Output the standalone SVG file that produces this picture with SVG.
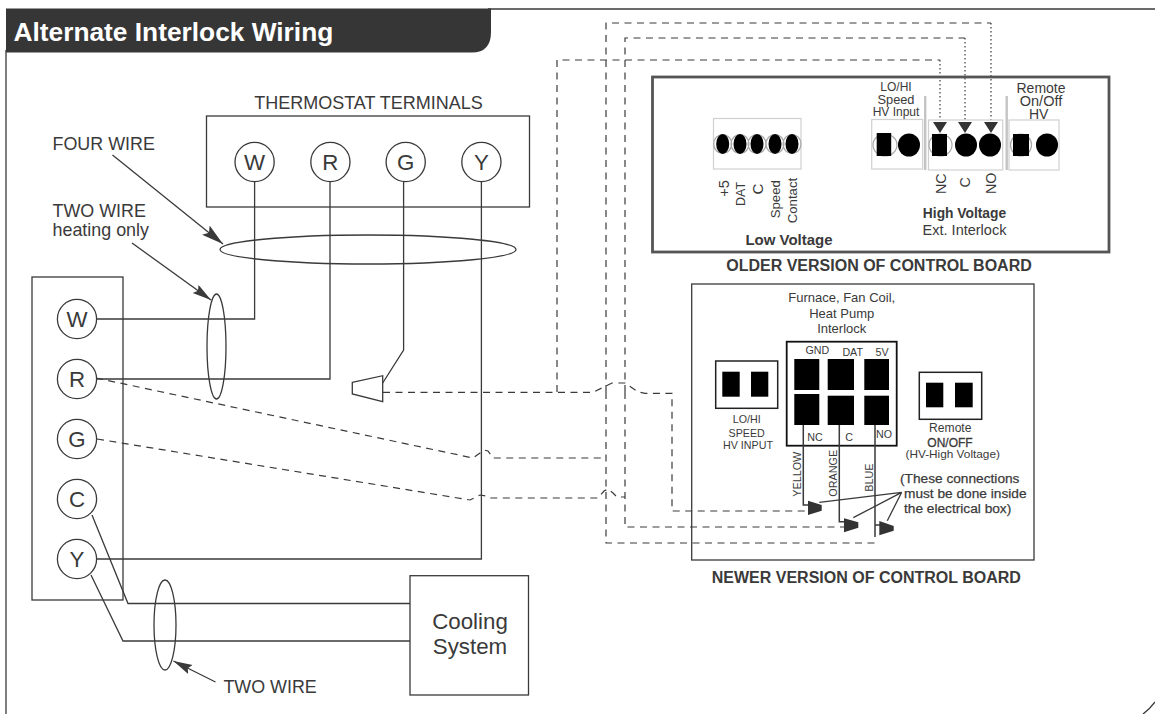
<svg xmlns="http://www.w3.org/2000/svg" width="1155" height="714" viewBox="0 0 1155 714">
<style>
text{font-family:"Liberation Sans",Arial,sans-serif;fill:#3a3a3a}
.l{fill:none;stroke:#3a3a3a;stroke-width:1.3}
.d{fill:none;stroke:#3a3a3a;stroke-width:1.2;stroke-dasharray:7 5.5}
.o{fill:none;stroke:#3a3a3a;stroke-width:1.2;stroke-dasharray:1.5 2.5}
.c{fill:#fff;stroke:#3a3a3a;stroke-width:1.3}
.b{font-weight:bold}
.k{fill:#000}
.g{fill:#fff;stroke:#d0d0d0;stroke-width:1.2}
.r{fill:none;stroke:#a8a8a8;stroke-width:1.2}
.h{fill:#333}
.m{text-anchor:middle}
.t{font-size:17.9px}
.n{font-size:22.3px;text-anchor:middle}
.s{stroke:#3a3a3a;stroke-width:.25;font-size:13.7px}
</style>
<defs>
<marker id="a" markerWidth="24" markerHeight="13" refX="22" refY="6" orient="auto" markerUnits="userSpaceOnUse"><path d="M0 0L22 6L0 12L4 6z" fill="#3a3a3a"/></marker>
<marker id="a2" markerWidth="20" markerHeight="11" refX="19" refY="5" orient="auto" markerUnits="userSpaceOnUse"><path d="M0 0L19 5L0 10L3 5z" fill="#3a3a3a"/></marker>
</defs>
<g id="frame">
<path d="M6 50V714" class="l"/>
<path d="M488 9H1155" class="l" stroke-width="1.800"/>
<path d="M1155 702Q1150 709 1143 714" class="l"/>
<path d="M6 8.500H491V32Q491 52.500 472 52.500H6z" fill="#363636"/>
<text x="13.500" y="40.500" font-size="26.300" class="b" style="fill:#fff">Alternate Interlock Wiring</text>
</g>
<g id="connectors">
<path d="M254.600 181V319H97M330 181V379H97M403.600 181V350L382.700 383M481.400 181V559H97" class="l"/>
<path d="M92 515L128 603.500H410M91 575L123 641H410" class="l"/>
<path d="M112.500 155L223 244" class="l" stroke-width="1.800" marker-end="url(#a)"/>
<path d="M132 243L211 300" class="l" marker-end="url(#a2)"/>
<path d="M215.500 682L173.400 661" class="l" marker-end="url(#a2)"/>
<path d="M96 378L473 458L484 450L488 451L493 458H604" class="d"/>
<path d="M97 439L470 500L480 495L486 496L490 498H598L604 491L608 489L613 493L617 497H625" class="d"/>
<path d="M383 392.300H593L612 383H625L638 392L645 393.300H672V511H808" class="d"/>
<path d="M557 392V60H940" class="d"/>
<path d="M606 392V23H991" class="d"/>
<path d="M625 392V38H965" class="d"/>
<path d="M606 392V543H875" class="d"/>
<path d="M625 392V527H844" class="d"/>
<path d="M940 60V122M965 38V122M991 23V122" class="o"/>
</g>
<g id="thermostat">
<rect x="206.500" y="116" width="323" height="91" class="l"/>
<text x="368.500" y="108.500" font-size="18" class="m">THERMOSTAT TERMINALS</text>
<circle cx="254.600" cy="162" r="19.600" class="c"/><text x="254.600" y="170" class="n">W</text>
<circle cx="330.400" cy="162" r="19.600" class="c"/><text x="330.400" y="170" class="n">R</text>
<circle cx="405.700" cy="162" r="19.600" class="c"/><text x="405.700" y="170" class="n">G</text>
<circle cx="481.400" cy="162" r="19.600" class="c"/><text x="481.400" y="170" class="n">Y</text>
</g>
<g id="labels">
<text x="52.500" y="150" class="t">FOUR WIRE</text>
<text x="52.500" y="216.500" class="t">TWO WIRE</text>
<text x="52.500" y="236" class="t">heating only</text>
<text x="223.400" y="692.500" class="t">TWO WIRE</text>
</g>
<g id="bundles">
<ellipse cx="368" cy="249.500" rx="148" ry="14.500" class="l"/>
<ellipse cx="216.500" cy="346.500" rx="9.500" ry="52.500" class="l"/>
<ellipse cx="165" cy="625" rx="11" ry="45" class="l"/>
<path d="M352.300 382.300L382.700 375.700V401.700L352.300 394z" fill="#fff" stroke="#3a3a3a" stroke-width="1.300"/>
</g>
<g id="unit">
<rect x="32" y="277" width="91" height="323" class="l"/>
<circle cx="77" cy="319" r="19.600" class="c"/><text x="77" y="327" class="n">W</text>
<circle cx="77" cy="379" r="19.600" class="c"/><text x="77" y="387" class="n">R</text>
<circle cx="77" cy="439" r="19.600" class="c"/><text x="77" y="447" class="n">G</text>
<circle cx="77" cy="499" r="19.600" class="c"/><text x="77" y="507" class="n">C</text>
<circle cx="77" cy="559" r="19.600" class="c"/><text x="77" y="567" class="n">Y</text>
</g>
<g id="cooling">
<rect x="410" y="575.700" width="118.500" height="119.300" class="c"/>
<text x="470" y="629" class="n">Cooling</text>
<text x="470" y="654" class="n">System</text>
</g>
<g id="older-board">
<rect x="652.500" y="77" width="456.500" height="175" fill="none" stroke="#555" stroke-width="2.800"/>
<rect x="713.500" y="118.500" width="87.500" height="50.500" class="g"/>
<g class="r"><ellipse cx="722.700" cy="144" rx="9" ry="9.500"/><ellipse cx="740" cy="144" rx="9" ry="9.500"/><ellipse cx="757" cy="144" rx="9" ry="9.500"/><ellipse cx="775" cy="144" rx="9" ry="9.500"/><ellipse cx="792" cy="144" rx="9" ry="9.500"/></g>
<g class="k"><ellipse cx="722.700" cy="144" rx="6.500" ry="10"/><ellipse cx="740" cy="144" rx="6.500" ry="10"/><ellipse cx="757" cy="144" rx="6.500" ry="10"/><ellipse cx="775" cy="144" rx="6.500" ry="10"/><ellipse cx="792" cy="144" rx="6.500" ry="10"/></g>
<rect x="871.700" y="119.500" width="51" height="49.500" class="g"/>
<ellipse cx="885" cy="145" rx="12" ry="11" class="r"/><rect x="876.700" y="133" width="14.500" height="23" class="k"/><ellipse cx="909" cy="145" rx="11" ry="11.500" class="k"/>
<rect x="924" y="96" width="2.400" height="74" fill="#c4c4c4"/><rect x="1005.500" y="96" width="2.400" height="74" fill="#c4c4c4"/>
<rect x="928.500" y="120" width="74.200" height="50" class="g"/>
<ellipse cx="940.500" cy="145" rx="11.500" ry="11" class="r"/><rect x="932" y="134" width="15" height="22" class="k"/><ellipse cx="966" cy="145" rx="11" ry="11.500" class="k"/><ellipse cx="990" cy="145" rx="11" ry="11.500" class="k"/>
<path d="M933 122H947L940 133zM958 122H972L965 133zM984 122H998L991 133z" class="h"/>
<rect x="1009" y="120" width="50" height="50" class="g"/>
<ellipse cx="1021" cy="145" rx="10.500" ry="11" class="r"/><rect x="1013" y="134" width="16" height="22" class="k"/><ellipse cx="1047" cy="145" rx="11" ry="11.500" class="k"/>
<text x="896" y="91" font-size="12" class="m">LO/HI</text>
<text x="896" y="104" font-size="12.800" class="m">Speed</text>
<text x="896" y="116" font-size="12" class="m">HV Input</text>
<text x="1041" y="92.700" font-size="14" class="m">Remote</text>
<text x="1041" y="106" font-size="14.500" class="m">On/Off</text>
<text x="1038.700" y="119" font-size="14" class="m">HV</text>
<text font-size="14.600" transform="translate(729 196.700) rotate(-90)">+5</text>
<text font-size="12.500" transform="translate(745 206) rotate(-90)">DAT</text>
<text font-size="15" transform="translate(762.700 194.500) rotate(-90)">C</text>
<text font-size="13.200" transform="translate(780 218.300) rotate(-90)">Speed</text>
<text font-size="13.200" transform="translate(796.700 223.300) rotate(-90)">Contact</text>
<text font-size="14.300" transform="translate(945.700 194) rotate(-90)">NC</text>
<text font-size="14.300" transform="translate(970 187.500) rotate(-90)">C</text>
<text font-size="14.300" transform="translate(996 194) rotate(-90)">NO</text>
<text x="789" y="245" font-size="15" class="m b">Low Voltage</text>
<text x="964.500" y="218" font-size="13.800" class="m b">High Voltage</text>
<text x="964.500" y="235" font-size="14.500" class="m">Ext. Interlock</text>
<text x="879" y="271" font-size="16" class="m b">OLDER VERSION OF CONTROL BOARD</text>
</g>
<g id="newer-board">
<rect x="691.700" y="284" width="342.300" height="276" class="l"/>
<text x="841.700" y="301.700" font-size="13" class="m">Furnace, Fan Coil,</text>
<text x="841.700" y="318.300" font-size="13" class="m">Heat Pump</text>
<text x="841.700" y="332.700" font-size="13" class="m">Interlock</text>
<rect x="715.700" y="361" width="62" height="47.300" fill="#fff" stroke="#222" stroke-width="1.500"/>
<rect x="722.300" y="371.700" width="17.400" height="25" class="k"/><rect x="751" y="371.700" width="17.300" height="25" class="k"/>
<text x="746.700" y="422.700" font-size="10.700" class="m">LO/HI</text>
<text x="746.700" y="436.700" font-size="10.700" class="m">SPEED</text>
<text x="748" y="449" font-size="10.700" class="m">HV INPUT</text>
<rect x="786.700" y="341.700" width="110" height="104" fill="#fff" stroke="#111" stroke-width="1.800"/>
<g class="k"><rect x="794.300" y="359" width="25" height="31"/><rect x="827.700" y="359" width="26.300" height="31"/><rect x="864.300" y="359" width="24.700" height="31"/><rect x="794.300" y="394" width="25" height="31"/><rect x="827.700" y="395.700" width="26.300" height="29.300"/><rect x="864.300" y="395.700" width="24.700" height="29.300"/></g>
<text x="817.300" y="354" font-size="10.700" class="m">GND</text><text x="852.700" y="356" font-size="10.700" class="m">DAT</text><text x="882" y="356" font-size="10.700" class="m">5V</text><text x="815" y="440.700" font-size="10.700" class="m">NC</text><text x="849" y="440.700" font-size="10.700" class="m">C</text><text x="884" y="438" font-size="10.700" class="m">NO</text>
<path d="M803.300 425V505H810M839.300 425V521.700H846M875 425V537M875 525H881" fill="none" stroke="#3a3a3a" stroke-width="1.500"/>
<path d="M808 500.700L821.700 505V510.700L808 515zM844 518.300L858.300 522.300V527.700L844 532.300zM879.300 521L893.700 526V530.700L879.300 535.300z" class="h"/>
<path d="M819.300 502.300L901.700 492.300L853.300 517.700M901.700 492.300L887.300 520.700" class="l"/>
<text font-size="10.800" transform="translate(800.700 496.700) rotate(-90)">YELLOW</text>
<text font-size="10.800" transform="translate(837.300 496.700) rotate(-90)">ORANGE</text>
<text font-size="10.800" transform="translate(872.700 491.700) rotate(-90)">BLUE</text>
<rect x="919.300" y="372.300" width="62.400" height="47" fill="#fff" stroke="#222" stroke-width="1.500"/>
<rect x="926" y="382.700" width="17.300" height="24.600" class="k"/><rect x="955" y="382.700" width="17.700" height="24.600" class="k"/>
<text x="950.300" y="431.700" font-size="12.100" class="m">Remote</text>
<text x="950" y="446.700" font-size="12" class="m" style="stroke:#3a3a3a;stroke-width:.3">ON/OFF</text>
<text x="952.700" y="458.300" font-size="11.800" class="m">(HV-High Voltage)</text>
<text x="900" y="482.700" class="s">(These connections</text>
<text x="904" y="497.700" class="s">must be done inside</text>
<text x="904" y="513.300" class="s">the electrical box)</text>
<text x="866.300" y="582.700" font-size="16" class="m b">NEWER VERSION OF CONTROL BOARD</text>
</g>
</svg>
